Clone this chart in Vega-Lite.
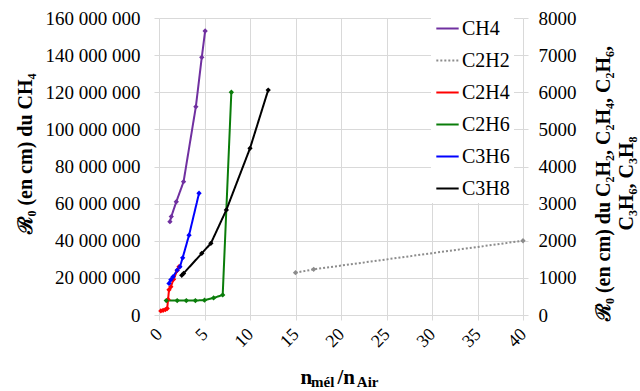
{
  "$schema": "https://vega.github.io/schema/vega-lite/v6.json",
  "width": 364,
  "height": 297,
  "autosize": {"type": "none"},
  "padding": {"left": 159, "top": 18, "right": 117, "bottom": 76},
  "config": {
    "font": "Liberation Serif",
    "view": {"stroke": null},
    "locale": {"number": {"decimal": ",", "thousands": " ", "grouping": [3], "currency": ["", " €"]}},
    "axis": {
      "labelFont": "Liberation Serif", "labelFontSize": 19, "labelColor": "#000",
      "gridColor": "#d9d9d9", "tickColor": "#d9d9d9", "tickSize": 5, "domain": false,
      "titleFont": "Liberation Serif", "titleFontSize": 20, "titleFontWeight": "bold", "titleColor": "#000"
    },
    "legend": {
      "orient": "none", "legendX": 272, "legendY": -6, "fillColor": "#ffffff",
      "symbolType": "stroke", "symbolSize": 500, "symbolStrokeWidth": 2,
      "labelFont": "Liberation Serif", "labelFontSize": 20, "labelColor": "#000",
      "rowPadding": 9, "padding": 4, "labelOffset": 2
    }
  },
  "title": {
    "text": "mél\u2002\u2002\u2002Air",
    "orient": "bottom", "anchor": "start", "frame": "group",
    "font": "Liberation Serif", "fontSize": 15, "fontWeight": "bold", "color": "#000",
    "dx": 152, "offset": 0, "baseline": "alphabetic"
  },
  "data": {
    "values": [
      {"s": "CH4", "x": 1.2, "y": 50300000},
      {"s": "CH4", "x": 1.35, "y": 53000000},
      {"s": "CH4", "x": 1.9, "y": 61000000},
      {"s": "CH4", "x": 2.7, "y": 71800000},
      {"s": "CH4", "x": 4.05, "y": 112200000},
      {"s": "CH4", "x": 4.7, "y": 138800000},
      {"s": "CH4", "x": 5.07, "y": 153000000},
      {"s": "C2H2", "x": 15, "y": 1140},
      {"s": "C2H2", "x": 17, "y": 1230},
      {"s": "C2H2", "x": 40, "y": 2000},
      {"s": "C2H4", "x": 0.2, "y": 110},
      {"s": "C2H4", "x": 0.45, "y": 125},
      {"s": "C2H4", "x": 0.7, "y": 145},
      {"s": "C2H4", "x": 0.9, "y": 175},
      {"s": "C2H4", "x": 1.0, "y": 420},
      {"s": "C2H4", "x": 1.1, "y": 680},
      {"s": "C2H4", "x": 1.3, "y": 760},
      {"s": "C2H4", "x": 1.6, "y": 960},
      {"s": "C2H4", "x": 2.0, "y": 1200},
      {"s": "C2H4", "x": 2.2, "y": 1300},
      {"s": "C2H6", "x": 0.8, "y": 390},
      {"s": "C2H6", "x": 2, "y": 390},
      {"s": "C2H6", "x": 3, "y": 390},
      {"s": "C2H6", "x": 4, "y": 390},
      {"s": "C2H6", "x": 5, "y": 400},
      {"s": "C2H6", "x": 6, "y": 460},
      {"s": "C2H6", "x": 7, "y": 540},
      {"s": "C2H6", "x": 7.95, "y": 6000},
      {"s": "C3H6", "x": 1.1, "y": 850},
      {"s": "C3H6", "x": 1.3, "y": 950},
      {"s": "C3H6", "x": 1.55, "y": 1030},
      {"s": "C3H6", "x": 2.0, "y": 1210},
      {"s": "C3H6", "x": 2.3, "y": 1300},
      {"s": "C3H6", "x": 2.6, "y": 1540},
      {"s": "C3H6", "x": 3.3, "y": 2150},
      {"s": "C3H6", "x": 4.4, "y": 3280},
      {"s": "C3H8", "x": 2.5, "y": 1070},
      {"s": "C3H8", "x": 2.7, "y": 1120},
      {"s": "C3H8", "x": 4.7, "y": 1660},
      {"s": "C3H8", "x": 5.7, "y": 1930},
      {"s": "C3H8", "x": 7.4, "y": 2830},
      {"s": "C3H8", "x": 10, "y": 4490},
      {"s": "C3H8", "x": 12, "y": 6060}
    ]
  },
  "layer": [
    {
      "transform": [{"filter": "datum.s === 'CH4'"}],
      "encoding": {
        "x": {
          "field": "x", "type": "quantitative",
          "scale": {"domain": [0, 40]},
          "axis": {
            "values": [0, 5, 10, 15, 20, 25, 30, 35, 40], "labelAngle": -45, "grid": true,
            "labelFontSize": 18, "labelOffset": -6, "labelPadding": 5,
            "title": "n\u2002\u2002\u2009/n", "titleFontSize": 21,
            "titleAlign": "left", "titleX": 141, "titleY": 68, "titleBaseline": "alphabetic"
          }
        },
        "y": {
          "field": "y", "type": "quantitative",
          "scale": {"domain": [0, 160000000]},
          "axis": {
            "orient": "left", "values": [0, 20000000, 40000000, 60000000, 80000000, 100000000, 120000000, 140000000, 160000000],
            "format": ",.0f", "grid": true, "labelPadding": 14,
            "title": "ℛ₀ (en cm) du CH₄", "titlePadding": 10, "titleY": 135
          }
        },
        "color": {
          "field": "s", "type": "nominal",
          "scale": {"domain": ["CH4", "C2H2", "C2H4", "C2H6", "C3H6", "C3H8"], "range": ["#7030a0", "#8c8c8c", "#ff0000", "#0a7d0a", "#0000ff", "#000000"]},
          "legend": {"title": null}
        }
      },
      "layer": [
        {
          "mark": {"type": "line", "strokeWidth": 2},
          "encoding": {
            "strokeDash": {
              "field": "s", "type": "nominal",
              "scale": {"domain": ["CH4", "C2H2", "C2H4", "C2H6", "C3H6", "C3H8"], "range": [[1, 0], [2, 2], [1, 0], [1, 0], [1, 0], [1, 0]]},
              "legend": {"title": null}
            }
          }
        },
        {"mark": {"type": "point", "filled": true, "shape": "diamond", "size": 28, "opacity": 1}}
      ]
    },
    {
      "transform": [{"filter": "datum.s !== 'CH4'"}],
      "encoding": {
        "x": {"field": "x", "type": "quantitative", "scale": {"domain": [0, 40]}},
        "y": {
          "field": "y", "type": "quantitative",
          "scale": {"domain": [0, 8000]},
          "axis": {
            "orient": "right", "values": [0, 1000, 2000, 3000, 4000, 5000, 6000, 7000, 8000],
            "format": "d", "grid": false, "labelPadding": 10,
            "title": ["ℛ₀ (en cm) du C₂H₂, C₂H₄, C₂H₆,", "C₃H₆, C₃H₈"],
            "titleAngle": 270, "titlePadding": 14, "titleLineHeight": 23, "titleY": 165
          }
        },
        "color": {"field": "s", "type": "nominal"}
      },
      "layer": [
        {
          "mark": {"type": "line", "strokeWidth": 2},
          "encoding": {"strokeDash": {"field": "s", "type": "nominal"}}
        },
        {"mark": {"type": "point", "filled": true, "shape": "diamond", "size": 28, "opacity": 1}}
      ]
    }
  ],
  "resolve": {"scale": {"y": "independent"}}
}
